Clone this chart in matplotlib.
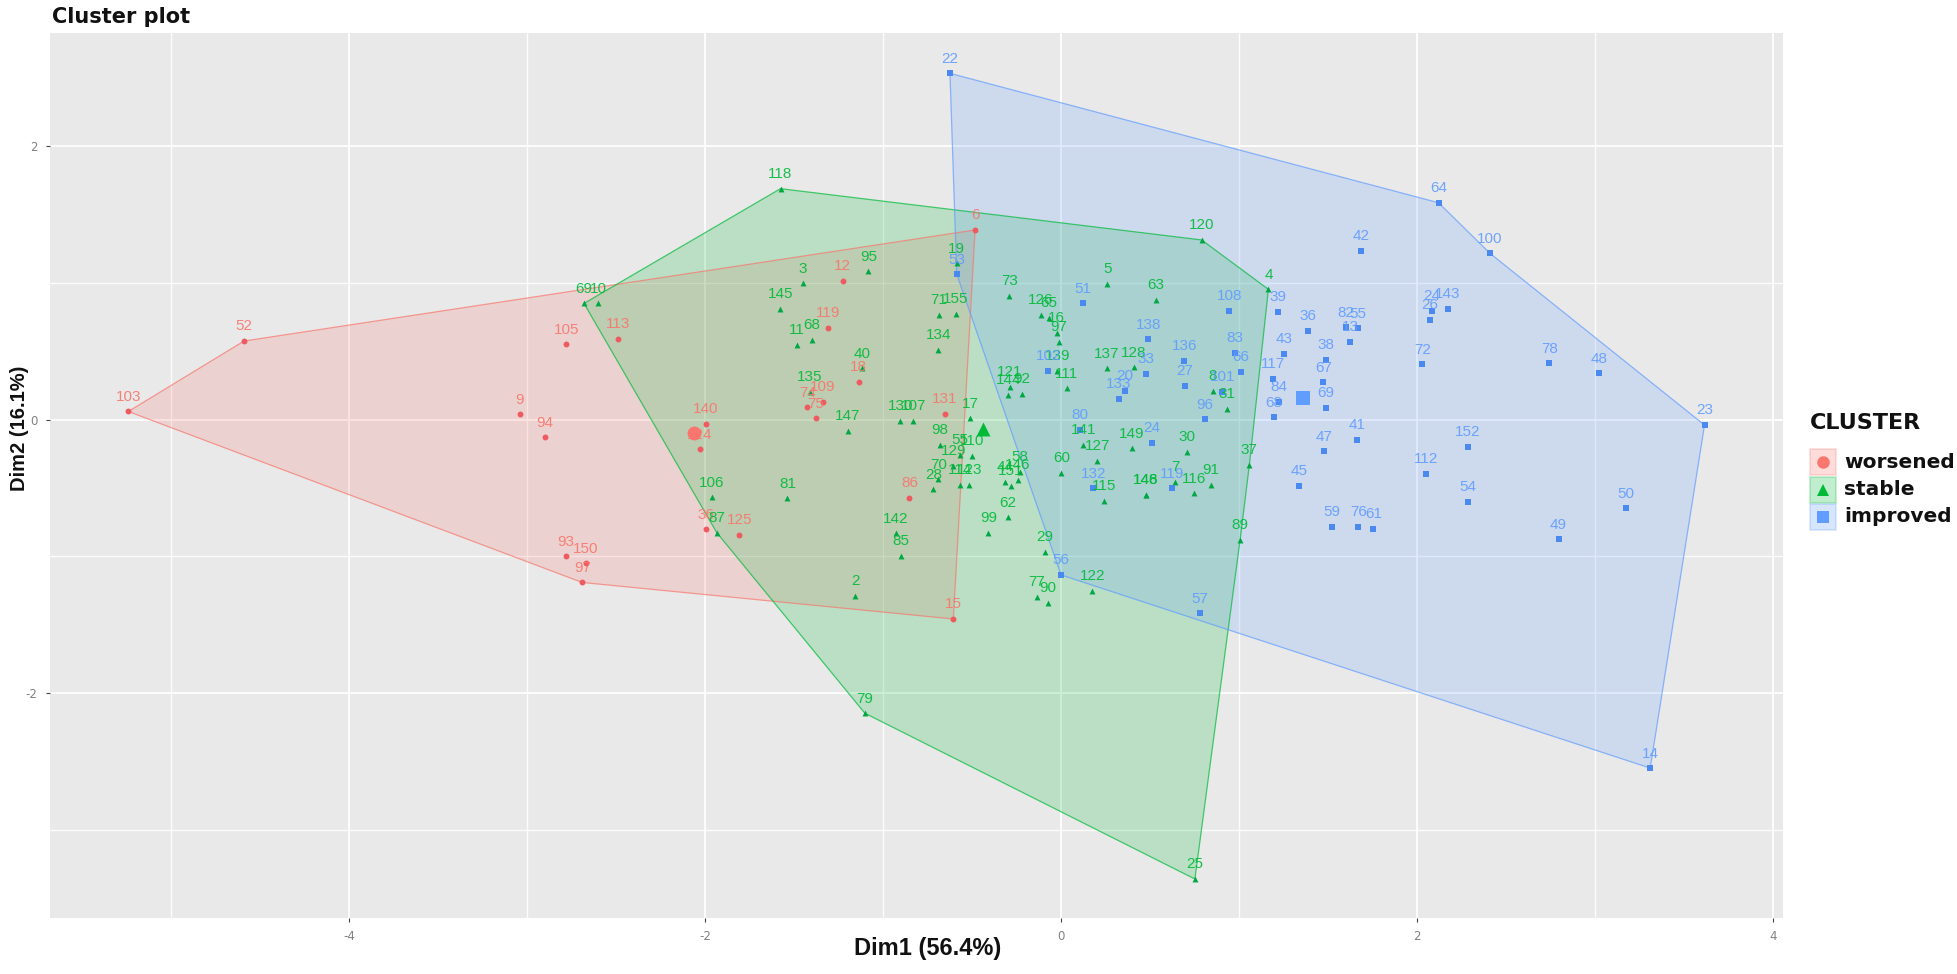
import matplotlib
matplotlib.use("Agg")
import matplotlib.pyplot as plt
from matplotlib.patches import Rectangle
from matplotlib.lines import Line2D

plt.rcParams["axes.unicode_minus"] = False

worsened_labels = ["103","52","105","113","9","94","93","150","97","6","15","12","119","18","109","74","75","140","124","86","131","36","125"]
worsened_x = [-5.24,-4.59,-2.78,-2.49,-3.04,-2.90,-2.78,-2.67,-2.69,-0.483,-0.605,-1.226,-1.307,-1.137,-1.339,-1.425,-1.378,-1.994,-2.03,-0.852,-0.652,-1.994,-1.807]
worsened_y = [0.06,0.575,0.55,0.59,0.04,-0.13,-1.00,-1.05,-1.19,1.387,-1.457,1.014,0.672,0.276,0.132,0.09,0.01,-0.03,-0.216,-0.57,0.042,-0.80,-0.843]
worsened_hull = ["103","52","6","15","97"]

stable_labels = ["69","10","3","95","145","11","68","40","135","147","130","107","71","155","134","17","98","55","110","129","70","28","114","123","44","146","151","58","62","99","142","85","2","77","90","122","29","60","141","127","115","149","30","7","148","146","116","91","37","89","4","120","118","25","79","87","106","81","73","126","65","16","97","139","111","121","144","92","137","128","5","63","8","31","19"]
stable_x = [-2.68,-2.60,-1.451,-1.082,-1.577,-1.485,-1.399,-1.116,-1.41,-1.197,-0.903,-0.83,-0.685,-0.59,-0.689,-0.511,-0.68,-0.567,-0.502,-0.605,-0.689,-0.717,-0.567,-0.515,-0.315,-0.242,-0.281,-0.23,-0.299,-0.408,-0.927,-0.899,-1.157,-0.137,-0.075,0.176,-0.09,0.002,0.125,0.204,0.242,0.397,0.706,0.64,0.478,0.478,0.747,0.841,1.058,1.006,1.165,0.79,-1.576,0.752,-1.102,-1.934,-1.962,-1.537,-0.29,-0.112,-0.067,-0.024,-0.011,-0.021,0.032,-0.287,-0.296,-0.221,0.257,0.41,0.26,0.534,0.852,0.931,-0.586]
stable_y = [0.85,0.85,0.997,1.085,0.809,0.546,0.583,0.375,0.205,-0.08,-0.01,-0.01,0.765,0.773,0.51,0.01,-0.185,-0.258,-0.265,-0.336,-0.436,-0.509,-0.478,-0.478,-0.453,-0.441,-0.482,-0.382,-0.713,-0.826,-0.83,-0.994,-1.289,-1.294,-1.338,-1.252,-0.965,-0.387,-0.185,-0.302,-0.592,-0.209,-0.234,-0.453,-0.55,-0.55,-0.538,-0.477,-0.331,-0.879,0.953,1.314,1.689,-3.358,-2.146,-0.826,-0.567,-0.575,0.904,0.765,0.746,0.636,0.57,0.356,0.23,0.241,0.18,0.188,0.376,0.383,0.992,0.875,0.21,0.08,1.143]
stable_hull = ["118","120","4","37","89","25","79","87","69"]

improved_labels = ["22","53","64","100","23","14","57","56","51","138","136","20","133","33","27","108","83","66","101","96","39","36","43","117","84","68","67","38","69","82","55","13","42","72","24","26","143","78","48","152","112","54","50","49","41","47","45","59","76","61","24","80","132","119","102"]
improved_x = [-0.624,-0.586,2.121,2.41,3.615,3.31,0.781,0.0,0.125,0.49,0.693,0.36,0.326,0.479,0.697,0.946,0.978,1.011,0.906,0.809,1.219,1.389,1.255,1.189,1.223,1.197,1.474,1.489,1.489,1.601,1.67,1.624,1.684,2.03,2.085,2.073,2.174,2.743,3.024,2.286,2.05,2.286,3.172,2.795,1.661,1.477,1.337,1.524,1.67,1.755,0.511,0.107,0.182,0.622,-0.071]
improved_y = [2.532,1.064,1.586,1.216,-0.039,-2.547,-1.415,-1.135,0.851,0.588,0.429,0.21,0.151,0.336,0.246,0.795,0.49,0.351,0.205,0.003,0.787,0.648,0.482,0.297,0.129,0.017,0.273,0.436,0.086,0.675,0.668,0.57,1.233,0.405,0.795,0.729,0.809,0.412,0.339,-0.197,-0.397,-0.599,-0.648,-0.874,-0.148,-0.231,-0.485,-0.782,-0.782,-0.799,-0.168,-0.075,-0.501,-0.501,0.356]
improved_hull = ["22","64","100","23","14","56","53"]

cluster_names = ["worsened","stable","improved"]
cluster_colors = ["#F8766D","#00BA38","#619CFF"]
point_colors = ["#EE5A5F","#00A844","#4A8AF0"]
cluster_markers = ["o","^","s"]
center_x = [-2.06,-0.44,1.358]
center_y = [-0.10,-0.07,0.161]
x_ticks = [-4,-2,0,2,4]
y_ticks = [-2,0,2]
x_minor = [-5,-3,-1,1,3]
y_minor = [-3,-1,1]

W, H = 1958, 974
fig = plt.figure(figsize=(W/100, H/100), dpi=100, facecolor="white")
ax = fig.add_axes([50/W, 1-918/H, 1733/W, 885/H], facecolor="#E9E9E9")
ax.set_xlim(-5.680, 4.056)
ax.set_ylim(-3.643, 2.827)
for s in ax.spines.values():
    s.set_visible(False)
ax.set_axisbelow(True)
ax.set_xticks(x_ticks)
ax.set_yticks(y_ticks)
ax.set_xticks(x_minor, minor=True)
ax.set_yticks(y_minor, minor=True)
ax.grid(True, which="major", color="white", lw=1.4, alpha=0.9)
ax.grid(True, which="minor", color="white", lw=1.0, alpha=0.9)
ax.tick_params(which="minor", length=0)
ax.tick_params(which="major", length=3, width=0.8, color="#444444", labelcolor="#808080",
               labelsize=8.5, pad=6)

groups = [
    (worsened_labels, worsened_x, worsened_y, worsened_hull),
    (stable_labels, stable_x, stable_y, stable_hull),
    (improved_labels, improved_x, improved_y, improved_hull),
]
for (labs, xs, ys, hull), col in zip(groups, cluster_colors):
    hx = [xs[labs.index(h)] for h in hull]
    hy = [ys[labs.index(h)] for h in hull]
    ax.fill(hx, hy, facecolor=col, alpha=0.2, edgecolor="none", zorder=2)
    ax.fill(hx, hy, facecolor="none", edgecolor=col, lw=0.9, alpha=0.7, zorder=2.1)
for (labs, xs, ys, hull), col, pcol, mk, cx, cy in zip(groups, cluster_colors, point_colors, cluster_markers, center_x, center_y):
    ax.scatter(xs, ys, s=18, c=pcol, marker=mk, linewidths=0, zorder=3)
    ax.scatter([cx], [cy], s=100, c=col, marker=mk, linewidths=0, zorder=3)
    for t, x, y in zip(labs, xs, ys):
        ax.annotate(t, (x, y), xytext=(0, 10.5), textcoords="offset points", ha="center", va="center",
                    fontsize=11, color=col, family="Liberation Sans", zorder=4, alpha=0.9)

def figtext(px, py, s, **kw):
    fig.text(px/W, 1-py/H, s, **kw)

dark = "#111111"
figtext(52, 17, "Cluster plot", fontsize=15, family="DejaVu Sans", weight="bold", va="center", ha="left", color=dark)
figtext(928, 948, "Dim1 (56.4%)", fontsize=17, family="Liberation Sans", weight="bold", va="center", ha="center", color=dark)
figtext(20, 428, "Dim2 (16.1%)", fontsize=14.5, family="Liberation Sans", weight="bold", va="center", ha="center", rotation=90, color=dark)
figtext(1810, 423, "CLUSTER", fontsize=16, family="DejaVu Sans", weight="bold", va="center", ha="left", color=dark)

key_top = [449, 477, 504]
for top, name, col, mk in zip(key_top, cluster_names, cluster_colors, cluster_markers):
    rect = Rectangle((1810/W, 1-(top+26)/H), 26/W, 26/H, transform=fig.transFigure,
                     facecolor=col, alpha=0.25, edgecolor=col, lw=1.2)
    fig.add_artist(rect)
    fig.add_artist(Line2D([1823/W], [1-(top+13)/H], transform=fig.transFigure, marker=mk, ms=9,
                          color=col, mew=0, ls="none"))
    figtext(1844, top+13, name, fontsize=14.5, family="DejaVu Sans", weight="bold", va="center", ha="left", color=dark)

fig.savefig("out.png", dpi=100, facecolor="white")
